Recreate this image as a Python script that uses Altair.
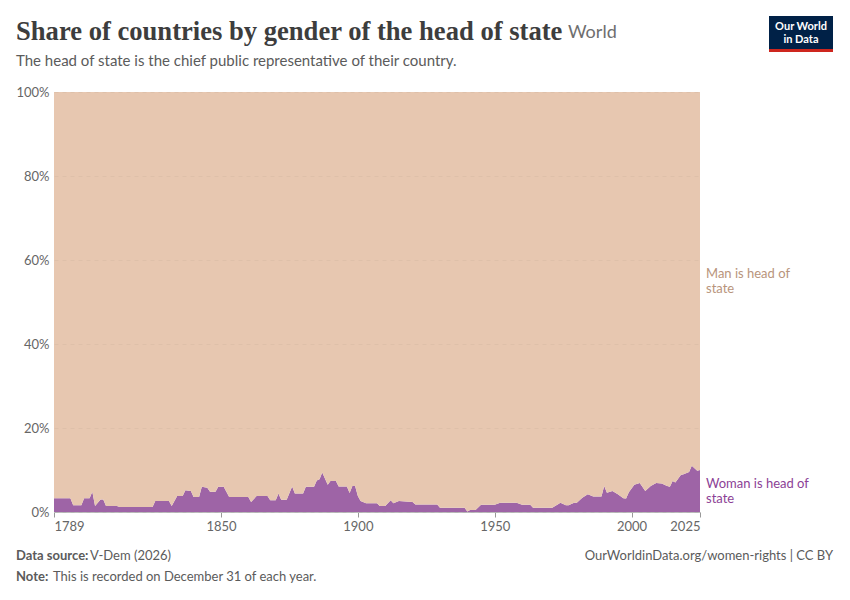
import altair as alt
import pandas as pd

# ---- data ----
years = [1789, 1795, 1796, 1799, 1800, 1802, 1803, 1804, 1806, 1807,
         1808, 1812, 1813, 1825, 1826, 1831, 1832, 1834, 1836, 1837,
         1839, 1840, 1842, 1843, 1845, 1846, 1848, 1849, 1851, 1853,
         1860, 1861, 1863, 1867, 1868, 1870, 1871, 1872, 1874, 1876,
         1877, 1880, 1881, 1884, 1885, 1886, 1887, 1889, 1890, 1892,
         1893, 1896, 1897, 1898, 1899, 1900, 1901, 1903, 1907, 1908,
         1910, 1912, 1913, 1915, 1920, 1921, 1929, 1930, 1939, 1940,
         1941, 1943, 1945, 1950, 1952, 1958, 1960, 1963, 1964, 1971,
         1973, 1974, 1976, 1977, 1979, 1980, 1982, 1984, 1986, 1989,
         1990, 1991, 1993, 1995, 1997, 1998, 1999, 2001, 2003, 2005,
         2007, 2009, 2011, 2013, 2014, 2015, 2016, 2018, 2019, 2021,
         2022, 2024, 2025]

woman = [3.3, 3.3, 1.6, 1.6, 3.3, 3.3, 4.8, 1.4, 3.0, 3.0,
         1.4, 1.4, 1.2, 1.2, 2.6, 2.6, 1.4, 3.8, 3.8, 5.2,
         5.0, 3.6, 3.6, 6.0, 5.8, 4.8, 4.8, 6.0, 6.0, 3.6,
         3.6, 2.4, 3.8, 3.8, 2.8, 2.8, 4.4, 2.9, 2.9, 6.1,
         4.4, 4.4, 6.0, 6.0, 7.5, 7.8, 9.4, 6.5, 7.4, 7.4,
         6.1, 6.1, 4.5, 6.2, 6.2, 3.8, 2.6, 2.1, 2.1, 1.4,
         1.4, 2.8, 2.1, 2.6, 2.4, 1.8, 1.8, 1.0, 1.0, 0.1,
         0.5, 0.5, 1.7, 1.7, 2.2, 2.2, 1.7, 1.7, 1.0, 1.0,
         1.8, 2.2, 1.6, 1.6, 2.2, 2.2, 3.4, 4.2, 3.7, 3.7,
         6.2, 4.6, 5.0, 4.2, 3.3, 3.2, 4.7, 6.5, 6.9, 5.0,
         6.2, 6.9, 6.8, 6.2, 6.0, 7.4, 7.0, 8.8, 9.0, 9.5,
         11.0, 9.8, 10.0]

man = [96.7, 96.7, 98.4, 98.4, 96.7, 96.7, 95.2, 98.6, 97.0, 97.0,
       98.6, 98.6, 98.8, 98.8, 97.4, 97.4, 98.6, 96.2, 96.2, 94.8,
       95.0, 96.4, 96.4, 94.0, 94.2, 95.2, 95.2, 94.0, 94.0, 96.4,
       96.4, 97.6, 96.2, 96.2, 97.2, 97.2, 95.6, 97.1, 97.1, 93.9,
       95.6, 95.6, 94.0, 94.0, 92.5, 92.2, 90.6, 93.5, 92.6, 92.6,
       93.9, 93.9, 95.5, 93.8, 93.8, 96.2, 97.4, 97.9, 97.9, 98.6,
       98.6, 97.2, 97.9, 97.4, 97.6, 98.2, 98.2, 99.0, 99.0, 99.9,
       99.5, 99.5, 98.3, 98.3, 97.8, 97.8, 98.3, 98.3, 99.0, 99.0,
       98.2, 97.8, 98.4, 98.4, 97.8, 97.8, 96.6, 95.8, 96.3, 96.3,
       93.8, 95.4, 95.0, 95.8, 96.7, 96.8, 95.3, 93.5, 93.1, 95.0,
       93.8, 93.1, 93.2, 93.8, 94.0, 92.6, 93.0, 91.2, 91.0, 90.5,
       89.0, 90.2, 90.0]

series_names = ["Woman is head of state", "Man is head of state"]
series_labels = ["Woman is head of\nstate", "Man is head of\nstate"]
series_colors = ["#9e64a6", "#e7c7b0"]
label_colors = ["#8c3f96", "#b8947c"]
x_ticks = [1789, 1850, 1900, 1950, 2000, 2025]
y_ticks = [0, 20, 40, 60, 80, 100]

title_text = "Share of countries by gender of the head of state"
entity_text = "World"
subtitle_text = "The head of state is the chief public representative of their country."
source_bold = "Data source:"
source_text = "V-Dem (2026)"
note_bold = "Note:"
note_text = "This is recorded on December 31 of each year."
url_text = "OurWorldinData.org/women-rights | CC BY"

assert len(years) == len(woman) == len(man)

rows = []
for y, w, m in zip(years, woman, man):
    rows.append({"year": y, "share": w, "series": series_names[0], "order": 0})
    rows.append({"year": y, "share": m, "series": series_names[1], "order": 1})
df = pd.DataFrame(rows)

label_df = pd.DataFrame({
    "year": [years[-1], years[-1]],
    "mid": [woman[-1] / 2, woman[-1] + man[-1] / 2],
    "label": series_labels,
    "lseries": series_names,
})

FONT = "Lato"
W, H = 646, 420

x_scale = alt.Scale(domain=[1789, 2025], nice=False, zero=False)
y_scale = alt.Scale(domain=[0, 100], nice=False)

area = alt.Chart(df).mark_area(interpolate="linear").encode(
    x=alt.X("year:Q", scale=x_scale,
            axis=alt.Axis(values=x_ticks, format="d", title=None, labelFlush=True,
                          labelFont=FONT, labelFontSize=13, labelColor="#666",
                          tickColor="#999", tickSize=5, domainColor="#bbb",
                          labelPadding=3, grid=False)),
    y=alt.Y("share:Q", stack="zero", scale=y_scale,
            axis=alt.Axis(values=y_ticks, labelExpr="datum.value + '%'", title=None,
                          domain=False, ticks=False, grid=True, gridDash=[4, 4],
                          gridColor="#000", gridOpacity=0.035, zindex=1,
                          labelFont=FONT, labelFontSize=13, labelColor="#666",
                          labelPadding=5)),
    color=alt.Color("series:N", scale=alt.Scale(domain=series_names, range=series_colors),
                    legend=None),
    order=alt.Order("order:Q"),
)

labels = alt.Chart(label_df).mark_text(
    align="left", baseline="middle", dx=6, dy=-7, font=FONT, fontSize=13, lineBreak="\n",
    lineHeight=15,
).encode(
    x=alt.X("year:Q", scale=x_scale),
    y=alt.Y("mid:Q", scale=y_scale),
    text="label:N",
    color=alt.Color("lseries:N", scale=alt.Scale(domain=series_names, range=label_colors),
                    legend=None),
)

OX, OY = 54, 92  # plot origin in page pixels (approx)


def txt(s, px, py, **kw):
    return alt.Chart(pd.DataFrame({"t": [s]})).mark_text(**kw).encode(
        x=alt.value(px - OX), y=alt.value(py - OY), text="t:N")


title = txt(title_text, 16, 32, align="left", baseline="middle",
            font="Liberation Serif", fontSize=26.6, fontWeight="bold", color="#3d3d3d")
entity = txt(entity_text, 568, 33, align="left", baseline="middle",
             font=FONT, fontSize=18, color="#6e6e6e")
subtitle = txt(subtitle_text, 16, 61, align="left", baseline="middle",
               font=FONT, fontSize=15, color="#5b5b5b")
src_b = txt(source_bold, 16, 556, align="left", baseline="middle",
            font=FONT, fontSize=13, fontWeight="bold", color="#5b5b5b")
src_t = txt(source_text, 90, 556, align="left", baseline="middle",
            font=FONT, fontSize=13, color="#5b5b5b")
note_b = txt(note_bold, 16, 577, align="left", baseline="middle",
             font=FONT, fontSize=13, fontWeight="bold", color="#5b5b5b")
note_t = txt(note_text, 53, 577, align="left", baseline="middle",
             font=FONT, fontSize=13, color="#5b5b5b")
url = txt(url_text, 833, 556, align="right", baseline="middle",
          font=FONT, fontSize=13, color="#5b5b5b")

logo_df = pd.DataFrame({"k": [1]})
logo_box = alt.Chart(logo_df).mark_rect(color="#002147").encode(
    x=alt.value(769 - OX), x2=alt.value(833 - OX),
    y=alt.value(16 - OY), y2=alt.value(52 - OY))
logo_bar = alt.Chart(logo_df).mark_rect(color="#ce261e").encode(
    x=alt.value(769 - OX), x2=alt.value(833 - OX),
    y=alt.value(49 - OY), y2=alt.value(52 - OY))
logo_t1 = txt("Our World", 801, 26.5, align="center", baseline="middle",
              font=FONT, fontSize=11, fontWeight="bold", color="#ffffff")
logo_t2 = txt("in Data", 801, 39.5, align="center", baseline="middle",
              font=FONT, fontSize=11, fontWeight="bold", color="#ffffff")

chart = alt.layer(
    area, labels, title, entity, subtitle, src_b, src_t, note_b, note_t, url,
    logo_box, logo_bar, logo_t1, logo_t2,
).resolve_scale(color="independent").properties(
    width=W, height=H,
    autosize=alt.AutoSizeParams(type="none"),
    padding={"left": OX - 8, "top": OY - 8, "right": 834 - (OX - 8) - W,
             "bottom": 584 - (OY - 8) - H},
).configure_view(stroke=None)

chart.save("out.html", embed_options={"renderer": "svg", "actions": False})
